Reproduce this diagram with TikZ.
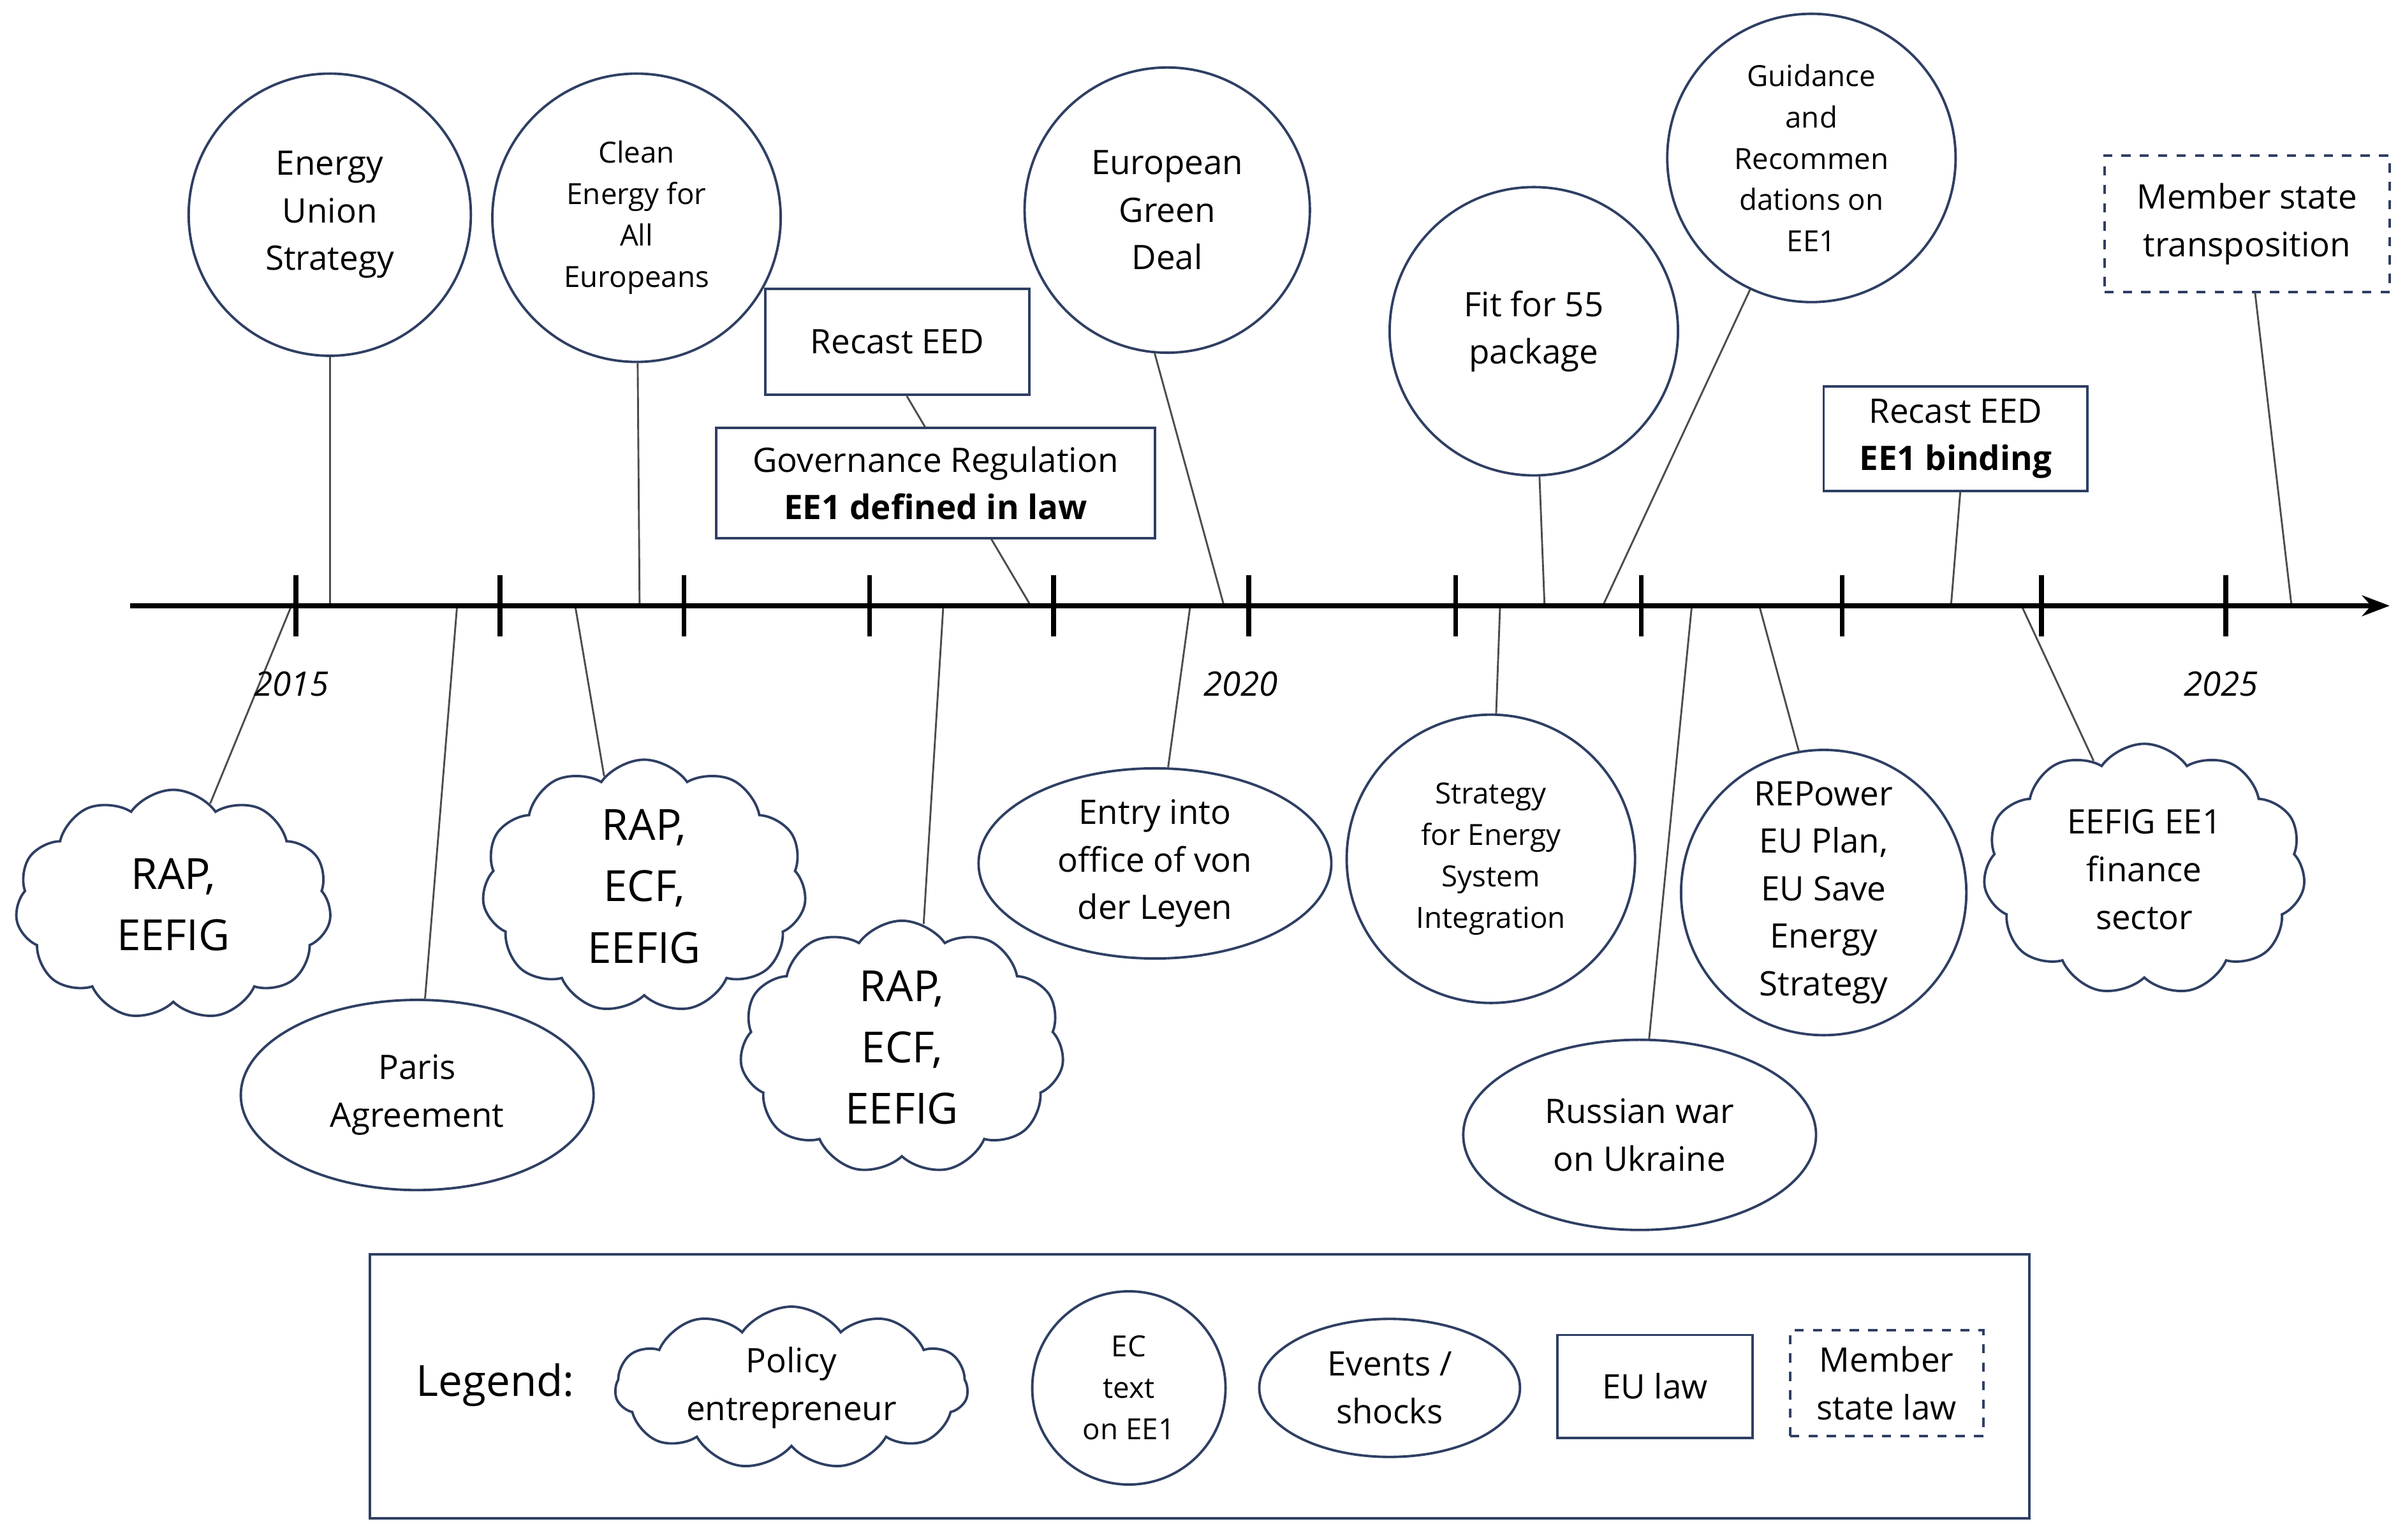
\documentclass[tikz,border=0pt]{standalone}
\usepackage{fontspec}
\setmainfont{Open Sans}
\usetikzlibrary{shapes.geometric,shapes.symbols,arrows.meta}
\definecolor{navy}{HTML}{2F3F63}
\begin{document}
\begin{tikzpicture}[x=0.5pt,y=-0.5pt,
    ectext/.style={circle,draw=navy,thick,align=center,inner sep=0pt,fill=white,font=\fontsize{11}{15.5}\selectfont},
    event/.style={ellipse,draw=navy,thick,align=center,inner sep=0pt,fill=white,font=\fontsize{11}{15.5}\selectfont},
    eulaw/.style={rectangle,draw=navy,thick,align=center,fill=white,font=\fontsize{11}{15.5}\selectfont},
    mslaw/.style={eulaw,dashed},
    policy/.style={cloud,cloud puffs=11,cloud puff arc=110,aspect=1.4,draw=navy,thick,align=center,inner sep=0pt,fill=white,font=\fontsize{14}{20}\selectfont},
    link/.style={draw=black!70,semithick}]
\useasboundingbox (0,0) rectangle (1568,1004);
% points on the axis
\foreach \n/\x in {a1/215,a2/190,a3/298,a4/417,a5/375,a6/615,a7/672,a8/798,a9/776,a10/1007,a11/1045,a12/978,a13/1147,a14/1103,a15/1272,a16/1318,a17/1494}
  \coordinate (\n) at (\x,395);
% EC texts
\node[ectext,minimum size=92pt] (eus) at (215,140) {Energy\\Union\\Strategy};
\node[ectext,minimum size=94pt,font=\fontsize{9.5}{13.5}\selectfont] (cea) at (415,142) {Clean\\Energy for\\All\\Europeans};
\node[ectext,minimum size=93pt] (egd) at (761,137) {European\\Green\\Deal};
\node[ectext,minimum size=94pt] (f55) at (1000,216) {Fit for 55\\package};
\node[ectext,minimum size=94pt,font=\fontsize{9.5}{13.5}\selectfont] (gre) at (1181,103) {Guidance\\and\\Recommen\\dations on\\EE1};
\node[ectext,minimum size=94pt,font=\fontsize{9.5}{13.5}\selectfont] (sesi) at (972,560) {Strategy\\for Energy\\System\\Integration};
\node[ectext,minimum size=93pt] (rep) at (1189,582) {REPower\\EU Plan,\\EU Save\\Energy\\Strategy};
% events
\node[event,minimum width=115pt,minimum height=62pt] (paris) at (272,714) {Paris\\Agreement};
\node[event,minimum width=115pt,minimum height=62pt] (vdl) at (753,563) {Entry into\\office of von\\der Leyen};
\node[event,minimum width=115pt,minimum height=62pt] (war) at (1069,740) {Russian war\\on Ukraine};
% policy entrepreneurs
\node[policy,minimum width=103pt,minimum height=75pt] (pe1) at (113,590) {RAP,\\EEFIG};
\node[policy,minimum width=103pt,minimum height=75pt] (pe2) at (420,578) {RAP,\\ECF,\\EEFIG};
\node[policy,minimum width=103pt,minimum height=75pt] (pe3) at (588,683) {RAP,\\ECF,\\EEFIG};
\node[policy,minimum width=105pt,minimum height=82pt,font=\fontsize{11}{15.5}\selectfont] (pe4) at (1398,567) {EEFIG EE1\\finance\\sector};
% connectors
\draw[link] (eus) -- (a1);
\draw[link] (cea) -- (a4);
\draw[link] (egd.-95) -- (a8);
\draw[link] (f55) -- (a10);
\draw[link] (gre.-115) -- (a11);
\draw[link] (a12) -- (sesi);
\draw[link] (a13) -- (rep.100);
\draw[link] (a3) -- (paris);
\draw[link] (a9) -- (vdl);
\draw[link] (a14) -- (war);
\draw[link] (a2) -- (pe1.70);
\draw[link] (a5) -- (pe2.110);
\draw[link] (a6) -- (pe3.80);
\draw[link] (a16) -- (pe4.115);
% EU law
\node[eulaw,minimum width=86pt,minimum height=34.5pt] (eed1) at (585,223) {Recast EED};
\draw[link] (eed1.-80) -- (a7);
\node[eulaw,minimum width=143pt,minimum height=36pt] (gov) at (610,315) {Governance Regulation\\\textbf{EE1 defined in law}};
\node[eulaw,minimum width=86pt,minimum height=34pt] (eed2) at (1275,286) {Recast EED\\\textbf{EE1 binding}};
\draw[link] (eed2.-85) -- (a15);
\node[mslaw,minimum width=93pt,minimum height=44.5pt] (mst) at (1465,146) {Member state\\transposition};
\draw[link] (mst) -- (a17);
% timeline
\draw[line width=1.6pt,-{Stealth[length=9pt]}] (85,395) -- (1558,395);
\foreach \x in {193,326,446,567,687,814,949,1070,1201,1331,1451}
  \draw[line width=1.6pt] (\x,375) -- (\x,415);
\node[font=\fontsize{11}{13}\itshape] (y15) at (190,446) {2015};
\node[font=\fontsize{11}{13}\itshape] (y20) at (809,446) {2020};
\node[font=\fontsize{11}{13}\itshape] (y25) at (1448,446) {2025};
% legend
\node[draw=navy,thick,minimum width=541pt,minimum height=86pt] (leg) at (782,904) {};
\node[font=\fontsize{14}{16}\selectfont] (legt) at (323,903) {Legend:};
\node[policy,aspect=2.4,minimum width=115pt,minimum height=48pt,font=\fontsize{11}{15.5}\selectfont] (lpe) at (516,905) {Policy\\entrepreneur};
\node[ectext,minimum size=63pt,font=\fontsize{9.5}{13.5}\selectfont] (lec) at (736,905) {EC\\text\\on EE1};
\node[event,minimum width=85pt,minimum height=45pt] (lev) at (906,905) {Events /\\shocks};
\node[eulaw,minimum width=63.5pt,minimum height=33.5pt] (leu) at (1079,904) {EU law};
\node[mslaw,minimum width=63pt,minimum height=34.5pt] (lms) at (1230,902) {Member\\state law};
\end{tikzpicture}
\end{document}
